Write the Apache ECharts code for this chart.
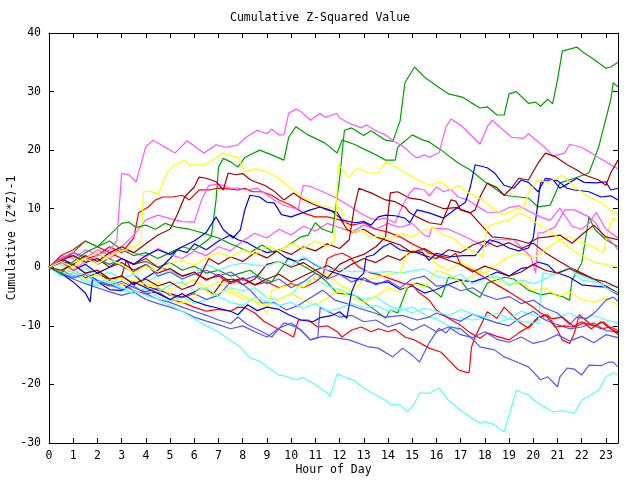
<!DOCTYPE html>
<html><head><meta charset="utf-8">
<script src="https://cdn.jsdelivr.net/npm/echarts@6/dist/echarts.min.js"></script>
<style>html,body{margin:0;padding:0;background:#fff}#c{width:640px;height:480px}</style>
</head><body><div id="c"></div>
<script>
const xTicks = [0,1,2,3,4,5,6,7,8,9,10,11,12,13,14,15,16,17,18,19,20,21,22,23];
const yTicks = [-30,-20,-10,0,10,20,30,40];

const G1 = [[0,0],[0.5,-1],[1,1],[1.5,2.5],[2,3.5],[2.5,5.5],[3,7.5],[3.3,7.7],[3.6,6.8],[4,7.2],[4.4,6.5],[4.8,7.5],[5.3,6.8],[5.8,6.5],[6.4,5.8],[7,5],[7.5,4],[7.8,3.5],[8.3,2.5],[8.8,3.8],[9.3,2.5],[9.8,3.5],[10.4,5.2],[10.7,5.5],[11,7.6],[11.3,6.5],[11.7,5.9],[12,15],[12.2,23.4],[12.5,23.8],[13,22.5],[13.3,23.3],[13.9,21.7],[14.2,21.5],[14.5,25],[14.7,31.5],[15.1,34.2],[15.5,32.5],[16,31],[16.5,29.6],[17.1,29],[17.4,28.2],[17.8,27.2],[18.1,27.4],[18.5,26],[18.8,26],[19,29.6],[19.3,30],[19.8,28],[20.1,28.2],[20.3,27.5],[20.6,28.7],[20.8,27.9],[21,32],[21.2,36.9],[21.8,37.6],[22.1,36.6],[22.5,35.5],[23,34],[23.2,34.2],[23.5,35]];
const G2 = [[0,0],[0.5,1.5],[1,2.5],[1.5,4.5],[2,3.5],[2.5,4.5],[3,3],[3.5,2],[4,2.5],[4.5,1.5],[5,2.5],[5.5,3.5],[6,3],[6.5,4.5],[6.7,5.2],[6.9,11.5],[7,17.1],[7.2,18.6],[7.5,18],[7.8,17.1],[8.1,18.8],[8.7,20],[9.2,19.2],[9.7,18.3],[9.9,22.2],[10.2,24],[10.7,22.6],[11.4,21.2],[11.9,19.5],[12.1,21.7],[12.6,21],[13.1,20],[13.5,19.2],[13.9,18.3],[14.3,18.3],[14.4,20.5],[15,22.6],[15.4,21.8],[15.7,21.4],[16.2,20],[16.9,17.8],[17.4,16.6],[18,14.6],[18.4,13.5],[18.8,12.3],[19.4,12],[19.8,11.8],[20.2,10.3],[20.7,10.6],[21.1,14.4],[21.7,15.2],[22.3,16.1],[22.7,20.5],[23.2,28.6],[23.3,31.5],[23.5,30.8]];
const G3 = [[0,0],[0.5,1.5],[1,2],[1.5,1],[2,1.5],[2.5,0.5],[3,1.5],[3.5,0.5],[4,1],[4.5,0],[5,0.8],[5.5,-0.5],[6,0.2],[6.5,-1],[7,-0.5],[7.5,-1.5],[7.9,-1],[8.3,-0.5],[8.7,-1.7],[9.2,-2.5],[9.9,1.6],[10.6,0],[11,-1],[11.4,-2.2],[11.9,-4.4],[12.6,-4.7],[13.3,-6.8],[13.9,-8.7],[14.1,-7.3],[14.4,-7.8],[14.8,-3.5],[15.2,-2.7],[15.7,-3.4],[16.2,-5.1],[16.5,-1.7],[17,-2.2],[17.3,-3.9],[17.8,-5.1],[18.1,-2.7],[18.8,-1.7],[19.2,-2],[19.8,-3.9],[20.3,-4.7],[20.7,-4.4],[21.2,-5],[21.5,-5.6],[21.6,-2.2],[22,0.7],[22.3,8.6],[22.55,6.4],[23,4.7],[23.5,3.5]];

const M1 = [[0,0],[0.5,1],[1,-0.5],[1.5,1],[2,2],[2.5,3],[2.8,4.5],[3,16],[3.3,15.8],[3.6,14.6],[4,20.6],[4.3,21.7],[4.8,20.5],[5.2,19.5],[5.7,21.6],[6.4,19.5],[6.9,20.9],[7.3,20.5],[7.8,20.9],[8.1,22.1],[8.6,23.4],[9,22.8],[9.2,23.6],[9.5,22.6],[9.7,22.6],[9.9,26.3],[10.2,27],[10.4,26.6],[10.8,25.1],[11.2,26.3],[11.4,25.6],[11.9,26.3],[12,25.5],[12.4,24.6],[12.9,23.8],[13.1,24.3],[13.6,23.1],[13.9,22.6],[14.3,21.4],[14.7,20.4],[15,19.2],[15.2,18.7],[15.5,19.2],[15.7,18.8],[16.1,19.5],[16.4,24],[16.6,25.3],[17,24.3],[17.8,21],[18.1,24],[18.3,25.1],[19.1,22.2],[19.6,22],[19.8,22.8],[20.5,20.4],[20.8,19],[21.3,19.5],[21.5,21],[22,20.5],[22.6,19],[23.2,17.5],[23.5,16.8]];
const M2 = [[0,0],[0.5,1.5],[1,2.5],[1.5,1.5],[2,3],[2.5,2],[3,3.5],[3.5,5.5],[4,8.1],[4.5,8.9],[5,8.3],[5.5,7.8],[6,7.7],[6.3,11.5],[6.6,14],[7,14.2],[7.5,13.5],[7.8,13.5],[8.2,13.2],[8.6,13.5],[8.9,12.7],[9.3,11.5],[9.7,10.6],[10.1,10.1],[10.3,10],[10.5,14],[10.8,13.8],[11.3,12.9],[11.8,12],[12,11.5],[12.4,10.5],[12.8,9.4],[13.2,8.5],[13.5,8.1],[13.9,8.4],[14.3,7.6],[14.6,10.5],[14.9,12.7],[15.1,13.5],[15.5,13.2],[15.7,12.2],[16,13.7],[16.3,12.9],[16.6,13.3],[16.9,12],[17.3,11.5],[17.7,10.4],[18.1,9.4],[18.6,9.4],[19,10.2],[19.4,10.5],[19.8,9.6],[20.3,8.6],[20.7,8],[21.1,10.1],[21.6,7],[22,6.5],[22.3,7.5],[22.6,9.4],[23,6.5],[23.5,5]];
const M3 = [[0,0],[0.5,2],[1,1.5],[1.5,3],[2,2.2],[2.5,1.5],[3,3],[3.5,2.5],[4,1.8],[4.5,3.2],[5,2.2],[5.5,1.5],[6,2.8],[6.5,2],[7,3.5],[7.5,2.8],[8,4.5],[8.5,5.8],[9,5],[9.5,6.5],[10,5.5],[10.5,7],[11,6.2],[11.5,7.5],[12,6.8],[12.5,6],[13,7.2],[13.5,6.5],[14,7.5],[14.5,6.8],[15,7.5],[15.5,5.5],[15.7,5.2],[15.8,6.7],[16.5,6.5],[17.3,5],[18,3.5],[18.4,4.7],[19.2,4.7],[19.6,3],[19.9,1.8],[20.1,-1],[20.2,5.9],[20.4,5.9],[20.9,6.9],[21.3,9.8],[21.7,9.8],[22.3,8.6],[22.6,7.5],[22.9,5.2],[23.2,4.5],[23.5,3]];

const C1 = [[0,0],[0.5,-0.8],[1,-1.5],[1.5,-1],[2,-2.5],[2.5,-2],[3,-3.5],[3.5,-4],[4,-4.8],[4.5,-5.5],[5,-6.5],[5.5,-7.5],[6,-8.8],[6.5,-10],[7,-11],[7.5,-12.5],[7.9,-13.6],[8.3,-15.5],[8.7,-16],[9,-17],[9.5,-18.4],[9.8,-18.6],[10.2,-19.2],[10.5,-18.8],[10.9,-19.8],[11.2,-20.6],[11.5,-21.5],[11.6,-22.1],[11.9,-18.2],[12.2,-18.7],[12.6,-19.3],[13,-20.6],[13.5,-21.8],[13.9,-22.7],[14.1,-23.5],[14.5,-23.5],[14.8,-24.7],[15.1,-23.2],[15.3,-21.5],[15.7,-21.5],[16.1,-20.6],[16.5,-22.7],[17,-24.4],[17.4,-25.6],[17.8,-26.6],[18,-26.3],[18.4,-26.9],[18.8,-28.1],[19.3,-21],[19.8,-21.8],[20.2,-23.2],[20.8,-24.7],[21.2,-24.5],[21.7,-24.9],[22,-22.7],[22.7,-21],[23,-18.7],[23.3,-18],[23.5,-18.4]];
const C2 = [[0,0],[0.5,-1],[1,-0.5],[1.5,-2],[2,-3],[2.5,-2.2],[3,-3.5],[3.5,-4.5],[4,-3.8],[4.5,-5],[5,-5.8],[5.5,-5],[6,-6.2],[6.5,-5.5],[7,-4.5],[7.5,-3.5],[8,-4],[8.5,-3.5],[9,-5.2],[9.5,-5.5],[10,-4.5],[10.5,-2.5],[11,-2],[11.5,-3.2],[12,-3.8],[12.5,-4.5],[13,-5.5],[13.5,-5],[14,-6.5],[14.5,-7.3],[15,-6.8],[15.5,-8],[15.7,-8.5],[16,-8.8],[16.5,-10],[16.9,-10.7],[17,-8.6],[17.5,-9],[18,-8.7],[18.5,-9.5],[19,-8.8],[19.5,-7.5],[20,-8.2],[20.5,-9],[21,-8.5],[21.5,-7.8],[22,-8.8],[22.5,-8.2],[23,-9],[23.5,-9.5]];
const C3 = [[0,0],[0.5,0.5],[1,-1],[1.5,0],[2,-1.5],[2.5,-0.8],[3,-2],[3.5,-1.2],[4,-2.5],[4.5,-1.5],[5,-0.5],[5.5,-2],[6,-1],[6.5,0.5],[7,-0.5],[7.5,0.3],[8,0.7],[8.5,0.4],[9,0.2],[9.5,1],[10,0.3],[10.5,1.8],[11,0.5],[11.5,-0.5],[12,-0.2],[12.5,-0.8],[13,-0.6],[13.5,-0.9],[14,-0.7],[14.5,-1],[15,-0.6],[15.5,-0.3],[16,-1.5],[16.5,-2],[17,-1.2],[17.5,-2.8],[18,-2],[18.5,-1.5],[19,-3],[19.5,-2.2],[20,-2.8],[20.5,-2],[21,-0.8],[21.5,-0.1],[22,-2.2],[22.5,-2.5],[23,-3],[23.5,-3.4]];
const C4 = [[0,0],[0.5,-1.5],[1,-1],[1.5,-2.5],[2,-3.2],[2.5,-2.5],[3,-3.8],[3.5,-4.5],[4,-3.5],[4.5,-4.2],[5,-3],[5.5,-2.5],[6,-4],[6.5,-3.5],[7,-5],[7.5,-6],[8,-6.5],[8.5,-5.2],[9,-5.8],[9.5,-6.5],[10,-6],[10.5,-7],[11,-6.2],[11.5,-7.5],[12,-7],[12.5,-6.2],[13,-7],[13.5,-6.5],[14,-7.5],[14.5,-7],[15,-7.8],[15.5,-7],[16,-7.5],[16.5,-8.3],[17,-7.2],[17.5,-8],[18,-8.5],[18.5,-7.8],[19,-8.8],[19.5,-9.2],[20,-9.5],[20.2,-9.5],[20.4,-1],[20.8,-1.2],[21.2,-0.8],[21.6,-0.3],[22,-1.5],[22.5,-2.2],[23,-3.5],[23.5,-4.5]];

const R1 = [[0,0],[0.5,-0.5],[1,-1.5],[1.5,-1.2],[2,-2.5],[2.5,-3.2],[3,-2.8],[3.5,-4],[4,-4.5],[4.5,-4.2],[5,-5.5],[5.5,-6],[6,-6.8],[6.5,-7.5],[7,-7.2],[7.5,-7.5],[7.8,-6.8],[8.1,-6.9],[8.5,-7.8],[8.9,-9.3],[9.3,-10.2],[9.7,-11],[10.1,-11.9],[10.3,-9],[10.7,-9],[11.1,-10.2],[11.5,-10],[11.9,-11],[12.1,-11.9],[12.5,-10.7],[12.9,-10.2],[13.3,-11],[13.6,-10.5],[14,-11],[14.3,-10.6],[14.7,-11.9],[15.1,-12.4],[15.7,-13.8],[16.2,-14.5],[16.5,-15.8],[16.9,-17.5],[17.2,-17.9],[17.35,-18],[17.45,-13.6],[17.6,-11.9],[18.1,-7.6],[18.5,-8.7],[18.8,-6.8],[19.4,-9.3],[19.8,-10.4],[20.2,-8.7],[20.6,-8.1],[21,-10.7],[21.2,-12.4],[21.5,-13],[21.7,-11.2],[21.9,-8.1],[22.3,-9.5],[22.8,-10.5],[23.2,-10.2],[23.5,-10.8]];
const R2 = [[0,0],[0.5,2],[1,3],[1.5,4.5],[2,3.5],[2.5,2.5],[3,1.5],[3.5,0.5],[4,1.5],[4.5,0],[5,-0.5],[5.5,-1.5],[6,-1],[6.5,-2],[7,-1.5],[7.5,-2.8],[8,-2],[8.5,-3],[9,-2.5],[9.5,-3.5],[10,-2.8],[10.5,-3.5],[11,-2.5],[11.3,-1.5],[11.5,1.5],[11.8,2.1],[12.1,2.4],[12.4,1.8],[12.8,0],[13.3,-1],[13.6,-1.2],[14,-1.8],[14.6,-2.7],[15,-3],[15.3,-4.4],[15.7,-5.6],[16,-7.3],[16.5,-8.7],[17,-9.9],[17.4,-11.2],[17.8,-12.1],[18.1,-11.2],[18.5,-11.8],[19,-12.4],[19.4,-11.2],[19.8,-10.2],[20.2,-8.5],[20.5,-8.1],[20.9,-10.2],[21.3,-10],[21.6,-10.2],[22,-9.3],[22.4,-10.5],[22.8,-9.3],[23.2,-10.5],[23.5,-11.5]];
const R3 = [[0,0],[0.5,1],[1,2.5],[1.5,1.5],[2,2],[2.5,3.5],[3,2.5],[3.5,5],[3.7,9.3],[4.1,10.3],[4.4,11.5],[4.7,12],[5.1,12],[5.5,12.3],[5.8,11.5],[6.2,13.2],[6.6,13.2],[7,13.5],[7.4,13.4],[7.8,13.2],[8.1,13.5],[8.4,12.9],[8.8,12.9],[9.2,12.3],[9.5,11.5],[10,10.6],[10.5,9.3],[11,8.6],[11.5,8.6],[12,8.1],[12.5,7.2],[13,7.6],[13.5,6.5],[14,6],[14.5,5.2],[15,4],[15.5,3],[15.7,2.4],[16.1,2],[16.5,1.6],[16.8,2.4],[17,0.4],[17.5,-0.5],[18,-1.8],[18.5,-3],[19,-4.2],[19.5,-5.5],[20,-6.8],[20.3,-7.8],[20.8,-8.8],[21.2,-8.5],[21.7,-10.2],[22.1,-9.5],[22.5,-10],[22.9,-9.3],[23.2,-10.5],[23.5,-11.2]];

const D1 = [[0,0],[0.5,1],[1,0.5],[1.5,2],[2,1],[2.5,2.5],[3,3.5],[3.5,2.5],[4,4],[4.5,5.5],[5,6.5],[5.3,9],[5.6,12],[6,13.7],[6.2,15.4],[6.5,15.2],[6.9,14.6],[7.2,13.2],[7.4,16.1],[7.7,15.8],[8,16],[8.3,15],[8.5,14.6],[8.9,14],[9.3,13],[9.7,11.5],[10.1,12.7],[10.4,11.8],[10.8,11],[11.2,10.3],[11.6,9.8],[12,8.5],[12.3,6.5],[12.6,5.9],[13,6.5],[13.5,5.2],[14,4.5],[14.5,3.8],[15,2.5],[15.5,3.2],[16,2],[16.5,1.2],[17,0.5],[17.5,-0.8],[18,0.2],[18.5,-0.5],[19,-1.5],[19.5,-0.8],[20,0.5],[20.5,-0.5],[21,-1],[21.5,-0.2],[22,-1.2],[22.5,-2],[23,-2.5],[23.5,-3.5]];
const D2 = [[0,0],[0.5,-0.5],[1,0.5],[1.5,-1],[2,-0.5],[2.5,-2],[3,-1.5],[3.5,-2.8],[4,-2],[4.5,-3.2],[5,-2.5],[5.5,-3.8],[6,-3],[6.3,-1],[6.6,1.5],[7,0.5],[7.5,1.8],[8,1],[8.5,2.5],[9,1.6],[9.5,3],[10,2.2],[10.5,3.5],[11,2.8],[11.5,4],[12,3.2],[12.4,4.7],[12.6,10],[12.8,13.5],[13.1,13],[13.3,12.7],[13.9,11.5],[14.3,11.2],[14.7,10.3],[14.9,9.3],[15.2,8.6],[15.7,7.6],[16.2,7.3],[16.6,11.5],[16.8,11.3],[17,9.8],[17.4,9.3],[17.6,9.8],[17.8,12],[18.1,14.4],[18.5,13.6],[18.8,12.3],[19.1,13.5],[19.4,15.2],[19.8,14.9],[20.2,17.8],[20.5,19.5],[20.9,18.9],[21.4,17.5],[21.8,16.6],[22.1,15.8],[22.7,14.9],[23,14],[23.2,16.1],[23.5,18.3]];
const D3 = [[0,0],[0.5,1.2],[1,2],[1.5,0.8],[2,1.5],[2.5,0],[3,0.8],[3.5,-0.5],[4,0.5],[4.5,-1],[5,-0.2],[5.5,-1.5],[6,-0.8],[6.5,-2.2],[7,-1.2],[7.5,-2.5],[8,-1.8],[8.5,-3],[9,-2],[9.5,-1.2],[10,-2.5],[10.5,-1.5],[11,-0.5],[11.5,-1.8],[12,0.5],[12.5,1.5],[13,2.2],[13.5,3.5],[13.9,5.2],[14.1,12.7],[14.4,12.9],[14.9,11.8],[15.4,11.5],[15.8,10.8],[16.3,10],[16.8,10.2],[17.4,9.3],[17.9,7],[18.3,5.2],[18.8,5],[19.3,4.7],[19.8,4.1],[20.2,5],[20.6,5.2],[21.1,5.5],[21.6,4.1],[22.1,5.9],[22.5,7.2],[23,5.2],[23.5,4.7]];
const D4 = [[0,0],[0.5,-1],[1,-0.5],[1.5,-1.8],[2,-1],[2.5,-2.2],[3,-1.5],[3.2,1.2],[3.5,-1.2],[4,-3.2],[4.5,-3.9],[5,-4.5],[5.5,-5.1],[6,-4.2],[6.3,-3.5],[6.8,-4.5],[7.2,-2.2],[7.6,-2],[8,-3],[8.5,-2],[9,0.5],[9.5,1],[10,0],[10.5,0.8],[11,-0.5],[11.5,0.3],[12,-0.8],[12.5,0.5],[13,1.5],[13.5,0.8],[14,2],[14.5,1.2],[15,2.8],[15.5,2],[16,1.5],[16.5,3],[17,2.5],[17.5,3.8],[18,4.5],[18.5,3.5],[19,4.2],[19.5,3.2],[20,4.1],[20.5,2.5],[21,1.2],[21.5,0],[22,-1],[22.5,-2],[23,-3.2],[23.5,-4.4]];

const Y1 = [[0,0],[0.5,-0.5],[1,0.8],[1.5,1.5],[2,0.5],[2.5,2],[3,2.8],[3.5,3.5],[3.8,4.1],[3.9,12.9],[4.2,13],[4.5,12.5],[4.9,16.3],[5.2,17.5],[5.6,18.3],[5.8,17.5],[6.4,17.5],[6.8,18.5],[7.2,19.5],[7.8,18.7],[8.1,16.3],[8.5,16.8],[9,16.3],[9.5,15.2],[9.9,13.7],[10.4,12.3],[10.9,11],[11.4,10.3],[11.8,10.1],[12,10.3],[12.3,6.9],[12.6,5.9],[12.9,6.3],[13.3,5],[13.7,5.5],[14.1,4.6],[14.5,5.8],[15,5.2],[15.5,6.4],[15.9,6.7],[16.3,5.5],[16.7,5],[17,3.8],[17.5,2.8],[17.9,1.8],[18.1,6.9],[18.5,7.6],[19,8],[19.4,9.3],[19.8,8.6],[20.3,7],[20.8,5.9],[21.1,4.7],[21.6,3],[22.1,1.8],[22.6,0.7],[23,0.5],[23.5,0]];
const Y2 = [[0,0],[0.5,1],[1,0],[1.5,1.5],[2,2.5],[2.5,1.2],[3,0.5],[3.5,-1],[4,0.2],[4.5,-0.8],[5,0.8],[5.5,1.2],[6,0.3],[6.5,1.6],[7,2.5],[7.5,1.8],[8,3],[8.5,2.2],[9,3.6],[9.5,2.8],[10,4],[10.5,3.2],[11,4.5],[11.5,3.5],[11.8,4.7],[11.95,17.5],[12.4,15.4],[12.7,16.9],[13.2,16.1],[13.6,16.1],[13.9,18],[14.3,17.2],[14.7,16.1],[15.1,15.2],[15.7,14],[16.2,14.6],[16.6,13.2],[16.9,14],[17.2,13],[17.9,11.5],[18.4,9.8],[18.8,9],[19.2,9.8],[19.6,10.2],[19.8,12.7],[20.2,14.9],[20.6,14.5],[21.2,15.7],[21.7,13.7],[22.3,12],[22.8,11],[23.2,9.8],[23.5,9]];
const Y3 = [[0,0],[0.5,-1],[1,-0.5],[1.5,-2],[2,-1.2],[2.5,-2.5],[3,-1.8],[3.5,-2.5],[4,-2.8],[4.5,-3.4],[5,-4.5],[5.3,-6.1],[5.7,-6],[6,-5.1],[6.3,-3.4],[6.8,-4.8],[7.2,-4],[7.6,-4.4],[8,-5.4],[8.5,-5.8],[9,-7.8],[9.2,-4],[9.6,-3.4],[10,-3],[10.5,-3.4],[11,-1.6],[11.5,-1],[12,-3],[12.5,-4],[13,-2.2],[13.5,-1.8],[14,-1.2],[14.5,-1],[14.8,2.5],[15.2,3],[15.7,2.2],[16,0.5],[16.5,-0.5],[17,0.8],[17.5,-0.2],[18,-1],[18.5,0.5],[19,1.8],[19.5,2.5],[20,1.5],[20.5,3],[21,4.5],[21.5,5.2],[22,4.2],[22.5,3.5],[22.9,2.5],[23.1,6.4],[23.3,8.4],[23.5,7.8]];
const Y4 = [[0,0],[0.5,0.8],[1,-0.8],[1.5,-1.5],[2,-0.5],[2.5,-1.8],[3,-3],[3.5,-2.2],[4,-3.5],[4.5,-2.5],[5,-3.8],[5.5,-3],[6,-2.2],[6.5,-3.5],[7,-2.5],[7.5,-3.8],[8,-4.8],[8.5,-5.8],[9,-6.5],[9.5,-5.5],[10,-4.5],[10.5,-5.5],[11,-6.5],[11.5,-5.2],[12,-3.9],[12.5,-5.2],[13,-6],[13.5,-5],[14,-3.5],[14.5,-4.2],[15,-2.8],[15.5,-3.5],[16,-0.5],[16.5,-1.2],[17,-2.5],[17.5,-1.5],[18,-0.8],[18.5,-2.2],[19,-3.2],[19.5,-2.5],[20,-4],[20.5,-3.5],[21,-5],[21.5,-4.2],[22,-5.5],[22.5,-6],[23,-5.2],[23.5,-6.5]];

const B1 = [[0,0],[0.5,1],[1,-0.5],[1.5,0.5],[2,-1],[2.5,0],[3,1.5],[3.5,0.5],[4,2],[4.5,3],[5,2.2],[5.5,3.5],[6,4.5],[6.5,6],[6.9,8.6],[7.2,6.4],[7.6,5],[7.9,6.4],[8.1,10],[8.3,12.3],[8.7,12],[9,11.1],[9.3,11],[9.6,9],[10,8.6],[10.4,9.2],[10.8,9.8],[11.2,10.3],[11.5,9.8],[11.9,9.4],[12.1,8.1],[12.6,7.6],[13,7.8],[13.3,7.2],[13.6,8.6],[13.9,8.9],[14.3,8.8],[14.7,8.4],[14.9,7.6],[15.2,9.8],[15.7,9.3],[16.3,8.4],[16.8,10],[17.2,11.1],[17.4,13.7],[17.6,17.5],[18.1,17],[18.4,16.1],[18.8,14],[19.2,13.5],[19.5,14.9],[19.8,14.5],[20.2,12.9],[20.5,15.2],[20.8,15],[21.1,13.5],[21.4,14.2],[21.8,15.2],[22.1,14.5],[22.6,14.4],[23,14.6],[23.2,13.2],[23.5,13.5]];
const B2 = [[0,0],[0.5,-1],[1,-2.5],[1.5,-4.4],[1.7,-5.9],[1.8,-1.8],[2.2,-3],[2.5,-3.8],[3,-4],[3.5,-2.5],[4,-3.5],[4.5,-4.5],[5,-5.5],[5.5,-4.5],[6,-5.8],[6.5,-6.5],[7,-7],[7.5,-7.5],[7.8,-8.1],[8.2,-6.4],[8.6,-7.4],[9,-6.8],[9.5,-7.2],[9.9,-8.1],[10.4,-9],[10.9,-9.3],[11.2,-8.6],[11.7,-8.2],[12,-7.6],[12.3,-8.7],[12.5,-4.2],[12.7,-2.2],[13,-1],[13.1,1.8],[13.4,2.1],[13.8,3.5],[14.1,4.1],[14.5,3],[15,2.6],[15.4,2.6],[15.7,1.2],[16,2.4],[16.6,1.8],[17.1,2],[17.6,2],[17.9,3.5],[18.2,4.7],[18.6,4.2],[19,3.3],[19.4,2.8],[19.8,3.3],[20,5],[20.1,8.1],[20.3,14.4],[20.6,14.9],[21,14.8],[21.4,13.5],[21.7,13.2],[22.3,12.9],[22.8,12],[23.2,12.2],[23.5,11.5]];
const B3 = [[0,0],[0.5,1.5],[1,0.5],[1.5,-1],[2,-0.5],[2.5,-2],[3,-1.5],[3.5,-3],[4,-1.8],[4.5,-0.5],[5,1.5],[5.3,3],[5.7,2.5],[6,4],[6.5,3],[7,4.5],[7.5,5.5],[7.8,4.7],[8.2,4.2],[8.6,3.2],[9,2.5],[9.4,2.8],[9.8,1.6],[10.2,1],[10.6,1.5],[11,0.4],[11.5,-0.5],[12,-1.2],[12.5,-1.8],[13,-2.2],[13.5,-2.8],[14,-2.5],[14.5,-3.8],[15,-3.2],[15.5,-4.4],[16,-3.8],[16.5,-2.9],[17,-2.2],[17.5,-2.5],[18,-1.8],[18.5,-0.8],[19,-1.5],[19.5,-0.2],[19.8,0],[20.2,0.9],[20.6,0.4],[20.9,-0.8],[21.5,-1.7],[22,-3],[22.5,-3.2],[23,-3.4],[23.5,-4.7]];

const S1 = [[0,0],[0.5,-1],[1,-1.8],[1.5,-1.2],[2,-2.5],[2.5,-3],[3,-3.8],[3.5,-3.2],[4,-4.5],[4.5,-5.5],[5,-6],[5.5,-6.8],[6,-7.5],[6.5,-8.2],[7,-9],[7.5,-9.6],[7.8,-8.5],[8.2,-9.8],[8.7,-10.8],[9.2,-11.9],[9.7,-9.5],[10.2,-10.2],[10.4,-10.7],[10.8,-12.4],[11.3,-11.8],[11.8,-12],[12.4,-12.4],[13.2,-13.6],[13.6,-13.8],[14.2,-15.3],[14.6,-13.8],[15,-15],[15.3,-16.2],[15.7,-12.9],[16.1,-10.4],[16.4,-11.2],[16.6,-10.2],[17,-10.5],[17.4,-11.9],[17.8,-13.6],[18.4,-14.1],[18.8,-15.3],[19.4,-16.3],[19.8,-17],[20.3,-19.2],[20.6,-18.7],[21,-20.4],[21.1,-18.7],[21.4,-17.2],[21.7,-17.4],[22,-18.4],[22.3,-16.7],[22.8,-16.8],[23.1,-16.2],[23.3,-16.2],[23.5,-17]];
const S2 = [[0,0],[0.5,-0.8],[1,-1.5],[1.5,-1],[2,-2.2],[2.5,-3],[3,-2.4],[3.5,-3.5],[4,-4.2],[4.5,-3.5],[5,-4.8],[5.5,-5.2],[6,-4.5],[6.5,-5.5],[7,-4.8],[7.5,-2.5],[7.8,-2.2],[8.3,-3.9],[8.8,-6.1],[9.3,-6],[9.8,-7.3],[10.3,-6.5],[10.8,-5.2],[11.3,-3.9],[11.8,-5.6],[12.3,-6.2],[12.8,-7],[13.3,-7.6],[13.9,-8.5],[14.6,-8.2],[15.2,-9],[15.7,-8.5],[16,-7.8],[16.5,-8.6],[17,-9.2],[17.5,-8],[18,-8.8],[18.5,-9.5],[19,-10],[19.5,-8.5],[20,-7.5],[20.5,-9],[21,-9.8],[21.5,-10.5],[22,-10.2],[22.5,-9.5],[23,-10.8],[23.5,-11]];
const S3 = [[0,0],[0.5,-1.2],[1,-2],[1.5,-2.8],[2,-3.5],[2.5,-4.2],[3,-4.8],[3.5,-4.2],[4,-5.5],[4.5,-6.2],[5,-6.8],[5.5,-7.5],[6,-8.5],[6.5,-9.2],[7,-9.8],[7.5,-10.5],[8,-10],[8.5,-11],[9,-11.9],[9.5,-10.4],[10,-9.5],[10.4,-10.7],[10.8,-12.4],[11.1,-12],[11.2,-6.8],[11.5,-7.5],[12,-8.5],[12.5,-8.2],[13,-9.3],[13.5,-9],[14,-10.2],[14.5,-9.5],[15,-10.8],[15.5,-9.8],[16,-11],[16.5,-10.2],[17,-11.5],[17.5,-12],[18,-11],[18.5,-12.3],[19,-12.8],[19.5,-11.9],[20,-13],[20.5,-12.5],[21,-11.5],[21.5,-12.6],[22,-11.8],[22.5,-12.9],[23,-11.5],[23.5,-12]];
const S4 = [[0,0],[0.5,0.8],[1,2.5],[1.5,1.8],[2,0.5],[2.5,1.5],[3,0.2],[3.5,-0.8],[4,0.5],[4.5,-1.5],[5,-0.8],[5.5,-2],[6,-1.2],[6.5,-0.5],[7,-1.5],[7.5,-0.8],[8,-2.2],[8.5,-1.5],[9,-2.8],[9.5,-2],[10,-3.5],[10.5,-2.5],[11,-1],[11.5,-2],[12,-1.2],[12.5,-2.5],[13,-1.8],[13.5,-3],[14,-2.2],[14.5,-3.5],[15,-2],[15.5,-1.5],[16,-3.2],[16.5,-3],[17,-4],[17.5,-3.5],[18,-4.8],[18.5,-5.5],[19,-5],[19.5,-6.2],[20,-5.6],[20.5,-7],[21,-7.8],[21.5,-9.8],[21.8,-8.5],[22.2,-8.8],[22.6,-7.5],[23,-5.6],[23.3,-5.1],[23.5,-5.8]];

const RED='#ff0000', GREEN='#00a000', BLUE='#0000ff', MAG='#ff55ff', CYAN='#55ffff', DRED='#a00000', YEL='#ffff00', SLATE='#5555ff';
const lines = [
  [R1,RED],[G3,GREEN],[B3,BLUE],[M3,MAG],[C2,CYAN],[D4,DRED],[Y4,YEL],[S2,SLATE],
  [R2,RED],[C3,CYAN],[Y3,YEL],[S3,SLATE],[D3,DRED],[C4,CYAN],[S4,SLATE],
  [R3,RED],[G2,GREEN],[B2,BLUE],[M2,MAG],[D1,DRED],[Y1,YEL],[S1,SLATE],[C1,CYAN],
  [G1,GREEN],[B1,BLUE],[M1,MAG],[D2,DRED],[Y2,YEL]
];

const font = 'DejaVu Sans Mono';
const chart = echarts.init(document.getElementById('c'), null, {renderer:'canvas'});
const axisCommon = {
  axisLine:{show:true,onZero:false,lineStyle:{color:'#000',width:1}},
  axisTick:{show:true,inside:true,length:5,lineStyle:{color:'#000'}},
  splitLine:{show:false}
};
chart.setOption({
  animation:false,
  backgroundColor:'#fff',
  title:{text:'Cumulative Z-Squared Value',left:'center',top:7,textStyle:{fontFamily:font,fontSize:11.5,fontWeight:'normal',color:'#000'}},
  grid:{left:49,right:22,top:33,bottom:37,containLabel:false,outerBoundsMode:'none'},
  xAxis:[
    Object.assign({type:'value',position:'bottom',min:xTicks[0],max:23.5,interval:1,
      name:'Hour of Day',nameLocation:'middle',nameGap:21,nameMoveOverlap:false,
      nameTextStyle:{fontFamily:font,fontSize:11.5,color:'#000'},
      axisLabel:{fontFamily:font,fontSize:11.5,color:'#000',margin:7,showMaxLabel:false,
        formatter:v=>xTicks.indexOf(v)>=0?String(v):''}},axisCommon),
    Object.assign({type:'value',position:'top',min:xTicks[0],max:23.5,interval:1,axisLabel:{show:false}},axisCommon)
  ],
  yAxis:[
    Object.assign({type:'value',position:'left',min:yTicks[0],max:yTicks[yTicks.length-1],interval:10,
      name:'Cumulative (Z*Z)-1',nameLocation:'middle',nameGap:31,nameRotate:90,nameMoveOverlap:false,
      nameTextStyle:{fontFamily:font,fontSize:11.5,color:'#000'},
      axisLabel:{fontFamily:font,fontSize:11.5,color:'#000',margin:8}},axisCommon),
    Object.assign({type:'value',position:'right',min:yTicks[0],max:yTicks[yTicks.length-1],interval:10,axisLabel:{show:false}},axisCommon)
  ],
  series: lines.map(([d,c])=>({type:'line',data:d,xAxisIndex:0,yAxisIndex:0,showSymbol:false,symbol:'none',
    lineStyle:{color:c,width:1.2},itemStyle:{color:c},emphasis:{disabled:true},clip:true}))
});
</script></body></html>
